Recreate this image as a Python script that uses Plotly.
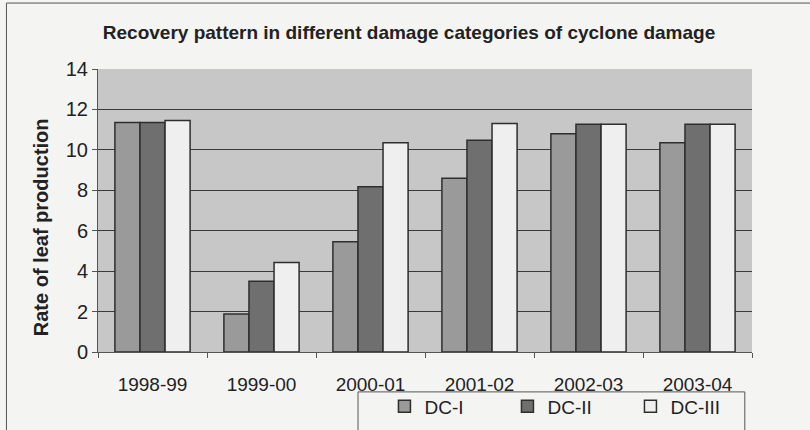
import plotly.graph_objects as go

years = ["1998-99", "1999-00", "2000-01", "2001-02", "2002-03", "2003-04"]
dc1 = [11.35, 1.88, 5.45, 8.6, 10.8, 10.35]
dc2 = [11.35, 3.5, 8.18, 10.47, 11.27, 11.27]
dc3 = [11.45, 4.43, 10.35, 11.3, 11.27, 11.27]

series = [("DC-I", dc1, "#9a9a9a"), ("DC-II", dc2, "#6f6f6f"), ("DC-III", dc3, "#efefef")]

font = "Liberation Sans Narrow, Arial Narrow, Liberation Sans, Arial, sans-serif"

fig = go.Figure()
for name, vals, col in series:
    fig.add_trace(
        go.Bar(
            x=years,
            y=vals,
            name=name,
            marker=dict(color=col, line=dict(color="#2e2e2e", width=1.5)),
        )
    )

fig.update_layout(
    width=810,
    height=430,
    barmode="group",
    bargap=0.31,
    bargroupgap=0,
    paper_bgcolor="#f4f4f2",
    plot_bgcolor="#c7c7c7",
    margin=dict(l=98, r=58, t=69, b=78, autoexpand=False),
    font=dict(family=font, color="#1e1e1e"),
    title=dict(
        text="<b>Recovery pattern in different damage categories of cyclone damage</b>",
        x=0.505,
        xanchor="center",
        y=0.925,
        yanchor="middle",
        font=dict(size=19, family=font, color="#222"),
    ),
    showlegend=True,
    legend=dict(
        orientation="h",
        x=0.438,
        xanchor="left",
        y=-0.125,
        yanchor="top",
        borderwidth=0,
        bgcolor="rgba(0,0,0,0)",
        font=dict(size=19, family=font),
        itemwidth=30,
        entrywidth=78,
    ),
)

fig.update_yaxes(
    range=[0, 14],
    dtick=2,
    showgrid=True,
    gridcolor="#3a3a3a",
    gridwidth=1,
    showline=True,
    linecolor="#555",
    linewidth=1,
    ticks="outside",
    ticklen=5,
    tickcolor="#555",
    tickfont=dict(size=20, family=font, color="#222"),
    zeroline=False,
)
fig.update_xaxes(
    type="category",
    showline=True,
    linecolor="#555",
    linewidth=1,
    ticks="outside",
    tickson="boundaries",
    ticklen=5,
    tickcolor="#555",
    tickfont=dict(size=19, family=font, color="#222"),
    ticklabelstandoff=15,
    showgrid=False,
)

# y axis title placed as annotation
fig.add_annotation(
    text="<b>Rate of leaf production</b>",
    xref="paper", yref="paper", x=-0.086, y=0.44,
    xanchor="center", yanchor="middle",
    textangle=-90, showarrow=False,
    font=dict(size=20, family=font, color="#222"),
)

# legend box and page border
fig.add_shape(type="rect", xref="paper", yref="paper", x0=0.3976, x1=0.989, y0=-0.141, y1=-0.4,
              line=dict(color="#555", width=1))
fig.add_shape(type="line", xref="paper", yref="paper", x0=-0.14, x1=-0.14, y0=-0.3, y1=1.233,
              line=dict(color="#555", width=1))
fig.add_shape(type="line", xref="paper", yref="paper", x0=-0.14, x1=1.1, y0=1.233, y1=1.233,
              line=dict(color="#555", width=1))

fig.write_html("out.html", config={"displayModeBar": False},
               post_script="document.body.style.margin='0';")
